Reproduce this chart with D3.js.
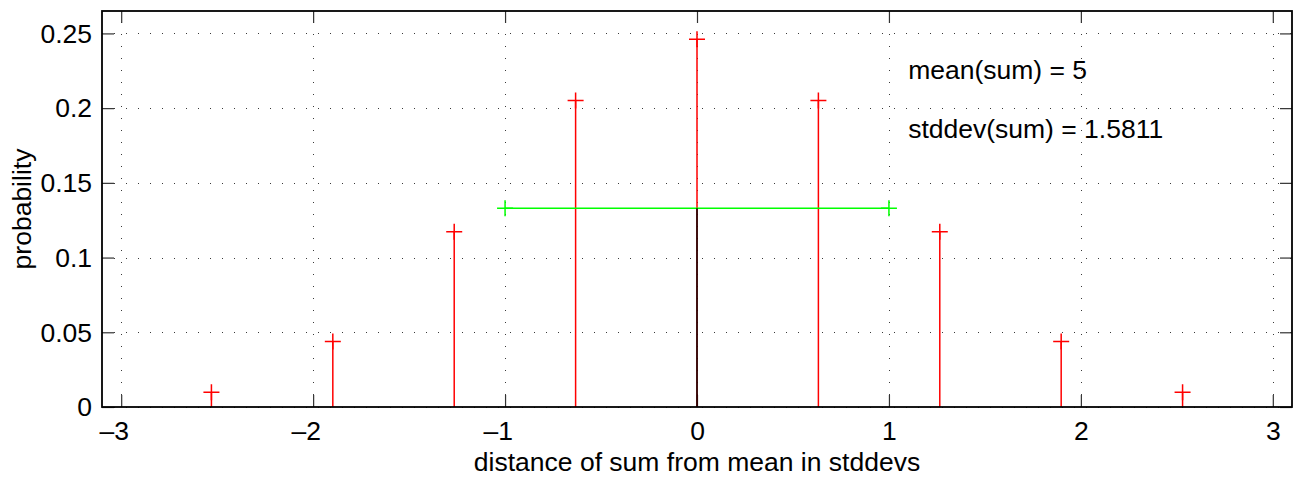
<!DOCTYPE html>
<html>
<head>
<meta charset="utf-8">
<script src="https://cdn.jsdelivr.net/npm/d3@7"></script>
<style>
  html, body { margin: 0; padding: 0; background: #fff; }
  svg { display: block; }
  text { font-family: "Liberation Sans", Arial, Helvetica, sans-serif; fill: #000; }
</style>
</head>
<body>
<svg id="chart" width="1302" height="478"></svg>
<script>
// Sum of ten fair coin flips: value of the sum and its probability
const sums = [0, 1, 2, 3, 4, 5, 6, 7, 8, 9, 10];
const probs = [0.001, 0.0098, 0.0439, 0.1172, 0.2051, 0.2461, 0.2051, 0.1172, 0.0439, 0.0098, 0.001];

// Summary statistics shown in the annotations
const meanSum = 5;
const stddevSum = 1.5811;

// One-stddev band drawn as a horizontal bar, and the mean marker height
const bandEnds = [-1, 1];
const bandLevel = 0.133;

// Axis ticks
const xTicks = [-3, -2, -1, 0, 1, 2, 3];
const xTickLabels = ["\u20133", "\u20132", "\u20131", "0", "1", "2", "3"];
const yTicks = [0, 0.05, 0.1, 0.15, 0.2, 0.25];
const yTickLabels = ["0", "0.05", "0.1", "0.15", "0.2", "0.25"];

const xLabel = "distance of sum from mean in stddevs";
const yLabel = "probability";
const notes = [
  { text: "mean(sum) = " + meanSum, x: 1.1, y: 0.225 },
  { text: "stddev(sum) = " + stddevSum, x: 1.1, y: 0.185 }
];

const box = { left: 102, top: 11, right: 1292, bottom: 407 };
const fontSize = 26.5;
const tickLen = 12;

const svg = d3.select("#chart");
const x = d3.scaleLinear().domain([-3.1, 3.1]).range([box.left, box.right]);
const y = d3.scaleLinear().domain([0, 0.265]).range([box.bottom, box.top]);

svg.append("defs").append("clipPath").attr("id", "plotClip")
  .append("rect")
  .attr("x", box.left).attr("y", box.top)
  .attr("width", box.right - box.left).attr("height", box.bottom - box.top);

// Dotted grid
const grid = svg.append("g").attr("stroke", "#3a3a3a").attr("stroke-width", 1)
  .attr("stroke-dasharray", "1,11").attr("fill", "none");
grid.selectAll("line.gx").data(xTicks).join("line")
  .attr("x1", d => Math.round(x(d)) + 0.5).attr("x2", d => Math.round(x(d)) + 0.5)
  .attr("y1", box.bottom).attr("y2", box.top);
grid.selectAll("line.gy").data(yTicks).join("line")
  .attr("y1", d => Math.round(y(d)) + 0.5).attr("y2", d => Math.round(y(d)) + 0.5)
  .attr("x1", box.left).attr("x2", box.right);

// Inward tick marks on all four sides
function styleAxis(g) {
  g.select(".domain").remove();
  g.selectAll(".tick line").attr("stroke", "#333").attr("stroke-width", 1.2);
}
const bottomAxis = svg.append("g")
  .attr("transform", `translate(0,${box.bottom})`)
  .call(d3.axisBottom(x).tickValues(xTicks).tickSize(-tickLen)
    .tickFormat((d, i) => xTickLabels[i]))
  .call(styleAxis);
svg.append("g")
  .attr("transform", `translate(0,${box.top})`)
  .call(d3.axisTop(x).tickValues(xTicks).tickSize(-tickLen).tickFormat(""))
  .call(styleAxis);
const leftAxis = svg.append("g")
  .attr("transform", `translate(${box.left},0)`)
  .call(d3.axisLeft(y).tickValues(yTicks).tickSize(-tickLen).tickPadding(10)
    .tickFormat((d, i) => yTickLabels[i]))
  .call(styleAxis);
svg.append("g")
  .attr("transform", `translate(${box.right},0)`)
  .call(d3.axisRight(y).tickValues(yTicks).tickSize(-tickLen).tickFormat(""))
  .call(styleAxis);

leftAxis.selectAll(".tick text")
  .attr("font-size", fontSize).attr("font-family", null)
  .attr("dy", "0.33em").attr("fill", "#000");

// Bottom labels: the digits sit centred on the tick, a minus sign hangs to the left
const probe = svg.append("text").attr("font-size", fontSize).attr("visibility", "hidden");
bottomAxis.selectAll(".tick text").each(function (d, i) {
  const label = xTickLabels[i];
  const digits = label.replace("\u2013", "");
  probe.text(digits);
  const w = probe.node().getComputedTextLength();
  d3.select(this)
    .attr("font-size", fontSize).attr("font-family", null).attr("fill", "#000")
    .attr("text-anchor", "end")
    .attr("x", w / 2).attr("y", 33).attr("dy", null);
});
probe.remove();

// Data layer, clipped to the axes box
const plot = svg.append("g").attr("clip-path", "url(#plotClip)");
const pts = sums.map((s, i) => ({ d: (s - meanSum) / stddevSum, p: probs[i] }));
const mk = 8;

plot.selectAll("line.stem").data(pts).join("line").attr("class", "stem")
  .attr("x1", d => x(d.d)).attr("x2", d => x(d.d))
  .attr("y1", y(0)).attr("y2", d => y(d.p))
  .attr("stroke", "#ff0000").attr("stroke-width", 1.5);
plot.selectAll("path.mark").data(pts).join("path").attr("class", "mark")
  .attr("d", d => {
    const cx = x(d.d), cy = y(d.p);
    return `M${cx - mk},${cy}H${cx + mk}M${cx},${cy - mk}V${cy + mk}`;
  })
  .attr("stroke", "#ff0000").attr("stroke-width", 1.5).attr("fill", "none");

// One-stddev bar
plot.append("line")
  .attr("x1", x(bandEnds[0])).attr("x2", x(bandEnds[1]))
  .attr("y1", y(bandLevel)).attr("y2", y(bandLevel))
  .attr("stroke", "#00ff00").attr("stroke-width", 1.5);
plot.selectAll("path.bandmark").data(bandEnds).join("path").attr("class", "bandmark")
  .attr("d", d => {
    const cx = x(d), cy = y(bandLevel);
    return `M${cx - mk},${cy}H${cx + mk}M${cx},${cy - mk}V${cy + mk}`;
  })
  .attr("stroke", "#00ff00").attr("stroke-width", 1.5).attr("fill", "none");

// Mean marker
plot.append("line")
  .attr("x1", x(0)).attr("x2", x(0))
  .attr("y1", y(0)).attr("y2", y(bandLevel))
  .attr("stroke", "#000").attr("stroke-width", 1.5);

// Axes box
svg.append("rect")
  .attr("x", box.left).attr("y", box.top)
  .attr("width", box.right - box.left).attr("height", box.bottom - box.top)
  .attr("fill", "none").attr("stroke", "#000").attr("stroke-width", 1.8);

// Annotations
svg.selectAll("text.note").data(notes).join("text").attr("class", "note")
  .attr("x", d => x(d.x)).attr("y", d => y(d.y)).attr("dy", "0.3em")
  .attr("font-size", fontSize).text(d => d.text);

// Axis titles
svg.append("text")
  .attr("x", (box.left + box.right) / 2).attr("y", 471)
  .attr("text-anchor", "middle").attr("font-size", fontSize).text(xLabel);
svg.append("text")
  .attr("transform", `translate(31,${(box.top + box.bottom) / 2}) rotate(-90)`)
  .attr("text-anchor", "middle").attr("font-size", fontSize).text(yLabel);
</script>
</body>
</html>
